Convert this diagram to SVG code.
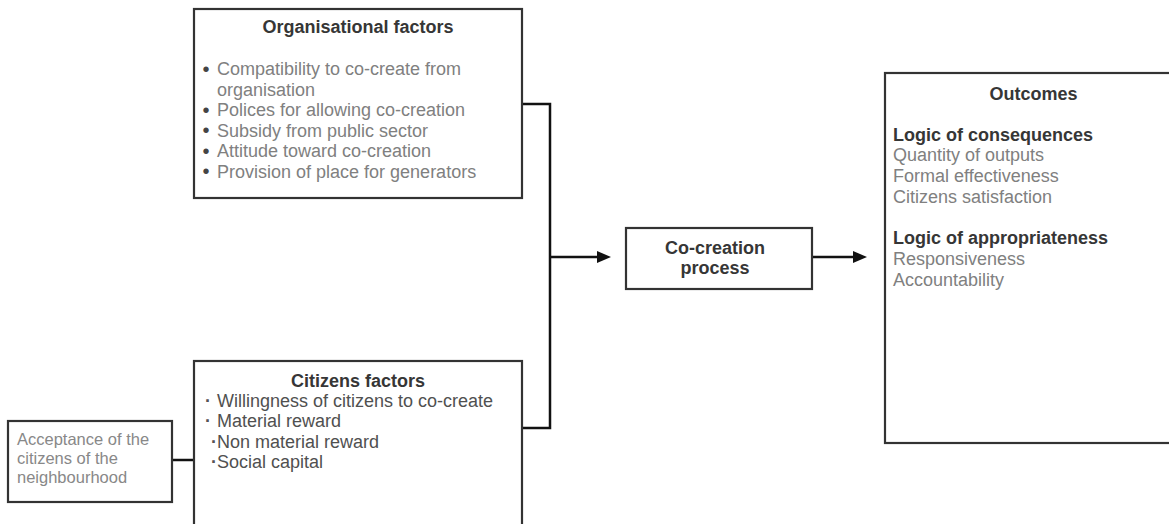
<svg xmlns="http://www.w3.org/2000/svg" width="1169" height="524" viewBox="0 0 1169 524">
  <style>
    .box { fill: #ffffff; stroke: #333333; stroke-width: 2.2; }
    .conn { fill: none; stroke: #111111; stroke-width: 2.5; }
    text { font-family: "Liberation Sans", Arial, Helvetica, sans-serif; }
    .title { font-size: 18px; font-weight: bold; fill: #363636; }
    .body { font-size: 18px; fill: #808080; }
    .dark { font-size: 18px; fill: #505050; }
    .small { font-size: 16.5px; fill: #888888; }
    .bul { font-size: 20px; fill: #444444; }
    .dot { font-weight: bold; fill: #555555; }
  </style>
  <defs>
    <marker id="arrow" markerUnits="userSpaceOnUse" viewBox="0 0 14 12" refX="8" refY="6" markerWidth="14" markerHeight="12" orient="auto">
      <path d="M0,0 L14,6 L0,12 Z" fill="#111111"/>
    </marker>
  </defs>
  <rect width="1169" height="524" fill="#ffffff"/>

  <g id="connectors">
    <path class="conn" d="M522,104 H550 V428 H522"/>
    <line class="conn" x1="550" y1="257" x2="605" y2="257" marker-end="url(#arrow)"/>
    <line class="conn" x1="812" y1="257" x2="861" y2="257" marker-end="url(#arrow)"/>
    <line class="conn" x1="172" y1="460" x2="194" y2="460"/>
  </g>

  <g id="organisational-factors">
    <rect class="box" x="194" y="9" width="328" height="189"/>
    <text class="title" x="358" y="33" text-anchor="middle">Organisational factors</text>
    <text class="body" x="202.5" y="75"><tspan class="bul" dy="0.5">•</tspan><tspan x="217" dy="-0.5">Compatibility to co-create from</tspan></text>
    <text class="body" x="217" y="95.5">organisation</text>
    <text class="body" x="202.5" y="116"><tspan class="bul" dy="0.5">•</tspan><tspan x="217" dy="-0.5">Polices for allowing co-creation</tspan></text>
    <text class="body" x="202.5" y="136.5"><tspan class="bul" dy="0.5">•</tspan><tspan x="217" dy="-0.5">Subsidy from public sector</tspan></text>
    <text class="body" x="202.5" y="157"><tspan class="bul" dy="0.5">•</tspan><tspan x="217" dy="-0.5">Attitude toward co-creation</tspan></text>
    <text class="body" x="202.5" y="177.5"><tspan class="bul" dy="0.5">•</tspan><tspan x="217" dy="-0.5">Provision of place for generators</tspan></text>
  </g>

  <g id="citizens-factors">
    <rect class="box" x="194" y="361" width="328" height="180"/>
    <text class="title" x="358" y="386.5" text-anchor="middle">Citizens factors</text>
    <text class="dark" x="205" y="407"><tspan class="dot">·</tspan><tspan x="217">Willingness of citizens to co-create</tspan></text>
    <text class="dark" x="205" y="427"><tspan class="dot">·</tspan><tspan x="217">Material reward</tspan></text>
    <text class="dark" x="211" y="447.5"><tspan class="dot">·</tspan><tspan x="217">Non material reward</tspan></text>
    <text class="dark" x="211" y="467.5"><tspan class="dot">·</tspan><tspan x="217">Social capital</tspan></text>
  </g>

  <g id="acceptance">
    <rect class="box" x="8" y="421" width="164" height="81"/>
    <text class="small" x="17" y="445">Acceptance of the</text>
    <text class="small" x="17" y="464">citizens of the</text>
    <text class="small" x="17" y="483">neighbourhood</text>
  </g>

  <g id="co-creation-process">
    <rect class="box" x="626" y="228" width="186" height="61"/>
    <text class="title" x="715" y="254" text-anchor="middle">Co-creation</text>
    <text class="title" x="715" y="274" text-anchor="middle">process</text>
  </g>

  <g id="outcomes">
    <rect class="box" x="885" y="73" width="297" height="370"/>
    <text class="title" x="1033.5" y="100" text-anchor="middle">Outcomes</text>
    <text class="title" x="893" y="141">Logic of consequences</text>
    <text class="body" x="893" y="161">Quantity of outputs</text>
    <text class="body" x="893" y="182">Formal effectiveness</text>
    <text class="body" x="893" y="203">Citizens satisfaction</text>
    <text class="title" x="893" y="244">Logic of appropriateness</text>
    <text class="body" x="893" y="265">Responsiveness</text>
    <text class="body" x="893" y="285.5">Accountability</text>
  </g>
</svg>
